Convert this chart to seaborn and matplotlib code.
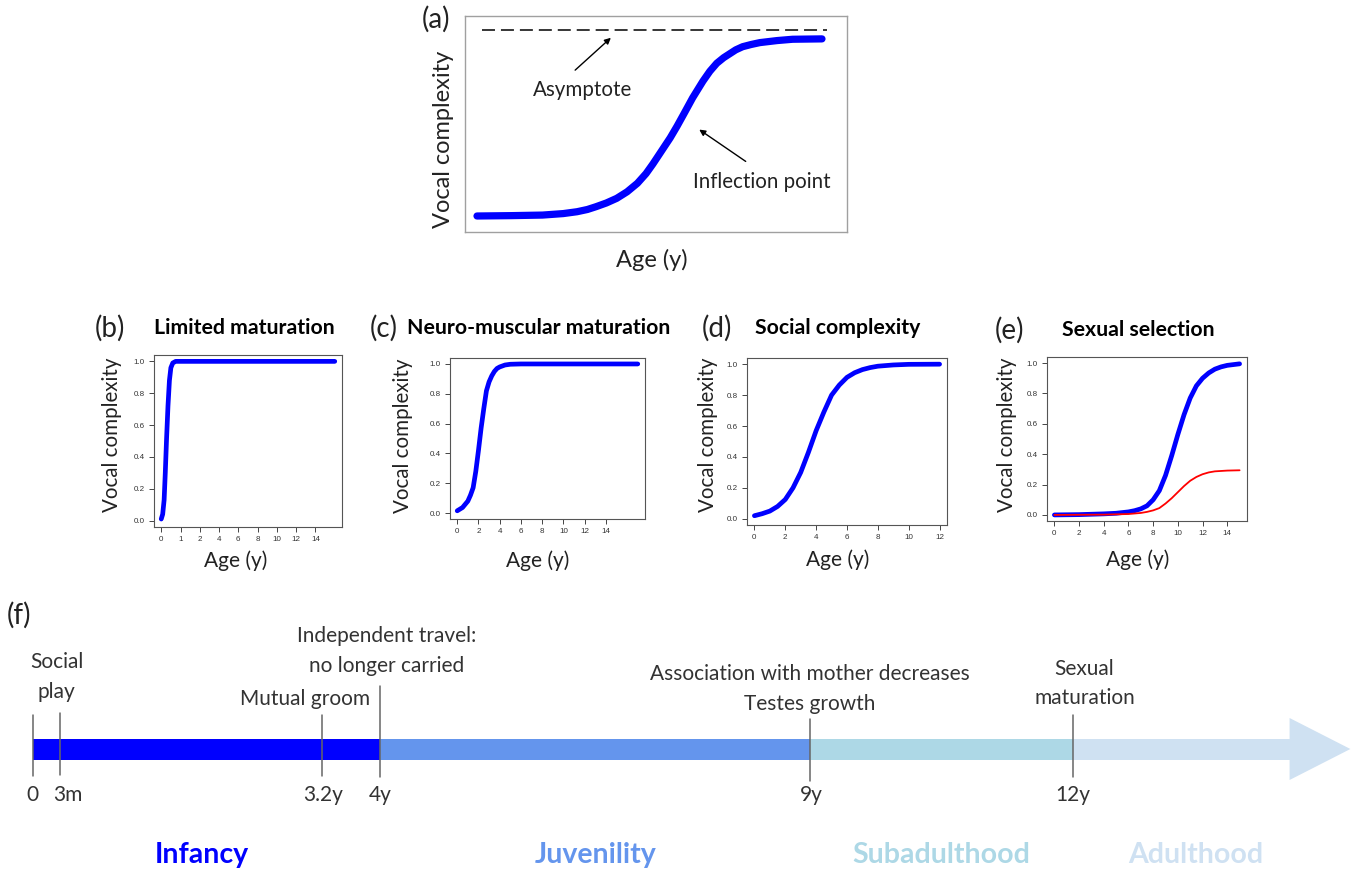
import numpy as np
import pandas as pd
import matplotlib
matplotlib.use("Agg")
import matplotlib.pyplot as plt
import seaborn as sns

sns.set_style("white")
plt.rcParams["font.family"] = ["Lato", "DejaVu Sans"]

W, H = 1354, 871

# ---- data ----
# (a) generic growth curve (arbitrary units)
a_age = [0, 2, 3.8, 5.0, 5.8, 6.4, 6.9, 7.5, 8.1, 8.7, 9.3, 9.8, 10.2, 10.7, 11.2, 11.6, 12.0,
         12.5, 13.1, 13.5, 13.9, 14.3, 14.7, 15.0, 15.4, 15.9, 16.4, 17.4, 18.3, 20.0]
a_val = [0.0, 0.002, 0.005, 0.013, 0.023, 0.035, 0.05, 0.07, 0.095, 0.13, 0.176, 0.228, 0.28,
         0.35, 0.42, 0.483, 0.55, 0.635, 0.725, 0.778, 0.821, 0.851, 0.875, 0.893, 0.91, 0.922,
         0.932, 0.943, 0.95, 0.952]
a_asymptote = 1.0

# (b) limited maturation
b_age = [0, 0.15, 0.3, 0.42, 0.55, 0.7, 0.85, 1.0, 1.2, 1.5, 18]
b_val = [0.01, 0.04, 0.13, 0.3, 0.51, 0.72, 0.88, 0.96, 0.99, 1.0, 1.0]
b_tick_pos = [0, 2, 4, 6, 8, 10, 12, 14, 16]
b_tick_lab = ["0", "1", "2", "4", "6", "8", "10", "12", "14"]

# (c) neuro-muscular maturation
c_age = [0, 0.5, 1, 1.25, 1.5, 1.75, 2, 2.25, 2.5, 2.75, 3, 3.25, 3.5, 3.75, 4, 4.5, 5, 6, 17]
c_val = [0.015, 0.037, 0.08, 0.12, 0.17, 0.28, 0.42, 0.57, 0.7, 0.82, 0.88, 0.92, 0.95, 0.97,
         0.98, 0.993, 0.998, 1.0, 1.0]

# (d) social complexity
d_age = [0, 0.5, 1, 1.5, 2, 2.5, 3, 3.5, 4, 4.5, 5, 5.5, 6, 6.5, 7, 7.5, 8, 9, 10, 12]
d_val = [0.02, 0.033, 0.05, 0.08, 0.125, 0.2, 0.3, 0.43, 0.57, 0.69, 0.8, 0.865, 0.915, 0.945,
         0.965, 0.978, 0.987, 0.995, 0.999, 1.0]

# (e) sexual selection: males (blue) vs females (red)
e_age_m = [0, 2, 4, 5, 6, 6.5, 7, 7.5, 8, 8.5, 9, 9.5, 10, 10.5, 11, 11.5, 12, 12.5, 13, 13.5, 14, 15]
e_val_m = [0, 0.002, 0.007, 0.011, 0.02, 0.028, 0.04, 0.06, 0.1, 0.16, 0.26, 0.39, 0.53, 0.66,
           0.77, 0.85, 0.9, 0.935, 0.96, 0.975, 0.985, 0.995]
e_age_f = [0, 4, 6, 7, 7.5, 8, 8.5, 9, 9.5, 10, 10.5, 11, 11.5, 12, 12.5, 13, 14, 15]
e_val_f = [0, 0.002, 0.006, 0.013, 0.02, 0.03, 0.045, 0.075, 0.11, 0.15, 0.19, 0.225, 0.25,
           0.268, 0.28, 0.287, 0.292, 0.294]

# (f) timeline, positions on the drawn axis
event_pos = [0, 0.32, 3.33, 4.0, 8.95, 11.98]
event_lab = ["0", "3m", "3.2y", "4y", "9y", "12y"]
event_notes = ["Social\nplay", "Mutual groom", "Independent travel:\nno longer carried",
               "Association with mother decreases\nTestes growth", "Sexual\nmaturation"]
note_pos = [0.28, 3.14, 4.08, 8.95, 12.11]
phase_names = ["Infancy", "Juvenility", "Subadulthood", "Adulthood"]
phase_start = [0, 4.0, 8.95, 11.98]
phase_end = [4.0, 8.95, 11.98, 14.47]
phase_label_pos = [1.95, 6.48, 10.46, 13.39]
phase_colors = ["#0000ff", "#6495ed", "#add8e6", "#cfe1f2"]
arrow_tip = 15.17


def box(l, t, r, b):
    return [l / W, 1 - b / H, (r - l) / W, (b - t) / H]


def ftext(x, y, s, **kw):
    fig.text(x / W, 1 - y / H, s, ha="center", va="center", **kw)


fig = plt.figure(figsize=(W / 100, H / 100), dpi=100)

# ---- panel (a) ----
ax = fig.add_axes(box(465, 16, 847, 232))
sns.lineplot(x=a_age, y=a_val, ax=ax, color="#0000ff", linewidth=5.2)
ax.plot([0.29, 20.3], [a_asymptote, a_asymptote], color="black", lw=1.1, dashes=(8.5, 3.9))
ax.set_xlim(-0.696, 21.45)
ax.set_ylim(-0.086, 1.075)
ax.set_xticks([])
ax.set_yticks([])
for s in ax.spines.values():
    s.set_color("#a0a0a0")
    s.set_linewidth(1)
ax.annotate("", xy=(7.88, 0.968), xytext=(5.57, 0.774),
            arrowprops=dict(arrowstyle="-|>", color="black", lw=1, mutation_scale=9))
ax.annotate("", xy=(12.75, 0.473), xytext=(15.71, 0.285),
            arrowprops=dict(arrowstyle="-|>", color="black", lw=1, mutation_scale=9))
ftext(583, 90, "Asymptote", fontsize=14.8, color="#222")
ftext(762, 182, "Inflection point", fontsize=14.8, color="#222")
ftext(436, 19, "(a)", fontsize=20, color="#222")
ftext(443, 139, "Vocal complexity", fontsize=17, rotation=90, color="#222")
ftext(652, 260, "Age (y)", fontsize=17, color="#222")

# ---- panels (b)-(e) ----
panels = [
    ("(b)", "Limited maturation", box(154, 355, 342, 527), (-0.75, 18.75),
     [(b_age, b_val, "#0000ff", 3.4)], b_tick_pos, b_tick_lab,
     (110, 328), (244, 328), (112, 435), (236, 561)),
    ("(c)", "Neuro-muscular maturation", box(450, 358, 645, 519), (-0.68, 17.68),
     [(c_age, c_val, "#0000ff", 3.4)], list(range(0, 15, 2)), None,
     (384, 328), (539, 328), (403, 436), (538, 561)),
    ("(d)", "Social complexity", box(747, 358, 947, 525), (-0.48, 12.48),
     [(d_age, d_val, "#0000ff", 3.4)], list(range(0, 13, 2)), None,
     (717, 328), (838, 328), (708, 435), (838, 560)),
    ("(e)", "Sexual selection", box(1047, 357, 1247, 521), (-0.6, 15.6),
     [(e_age_m, e_val_m, "#0000ff", 3.4), (e_age_f, e_val_f, "#ff0000", 1.3)],
     list(range(0, 15, 2)), None,
     (1009, 330), (1138, 330), (1007, 435), (1138, 560)),
]

for tag, title, pos, xlim, series, xt, xtl, tag_xy, title_xy, yl_xy, xl_xy in panels:
    ax = fig.add_axes(pos)
    for xs, ys, col, lw in series:
        df = pd.DataFrame({"age": xs, "val": ys})
        sns.lineplot(data=df, x="age", y="val", ax=ax, color=col, linewidth=lw,
                     solid_capstyle="round")
    ax.set_xlim(*xlim)
    ax.set_ylim(-0.04, 1.04)
    ax.set_xticks(xt)
    if xtl is not None:
        ax.set_xticklabels(xtl)
    ax.set_yticks([0, 0.2, 0.4, 0.6, 0.8, 1.0])
    ax.set_yticklabels(["0.0", "0.2", "0.4", "0.6", "0.8", "1.0"])
    ax.set_xlabel("")
    ax.set_ylabel("")
    ax.tick_params(axis="both", direction="out", length=3.5, width=0.7, color="#444",
                   labelsize=5.8, labelcolor="#333", pad=3, left=True, bottom=True)
    for lab in ax.get_xticklabels() + ax.get_yticklabels():
        lab.set_family(["Liberation Sans", "DejaVu Sans"])
    for s in ax.spines.values():
        s.set_color("#555")
        s.set_linewidth(0.8)
    ftext(*tag_xy, tag, fontsize=20, color="#222")
    ftext(*title_xy, title, fontsize=15.3, fontweight="bold", color="black")
    ftext(*yl_xy, "Vocal complexity", fontsize=14.8, rotation=90, color="#222")
    ftext(*xl_xy, "Age (y)", fontsize=15, color="#222")

# ---- panel (f): timeline ----
axf = fig.add_axes([0, 0, 1, 1], zorder=-1)
axf.set_xlim((0 - 32.5) / 86.875, (W - 32.5) / 86.875)
axf.set_ylim(H, 0)
axf.axis("off")

bar_y, bar_h = 749, 21
widths = [e - s for s, e in zip(phase_start, phase_end)]
axf.barh(bar_y, widths, left=phase_start, height=bar_h, color=phase_colors, linewidth=0)
axf.fill([phase_end[-1], arrow_tip, phase_end[-1]], [718, bar_y, 780],
         color=phase_colors[-1], linewidth=0)

line_top = [715, 713, 715, 686, 719, 715]
line_bot = [776, 775, 776, 777, 781, 777]
for p, t, b in zip(event_pos, line_top, line_bot):
    axf.plot([p, p], [t, b], color="#666", lw=1.1)

lab_nudge = [0, 0.09, 0.02, 0, 0.02, 0]
for p, lab, n in zip(event_pos, event_lab, lab_nudge):
    axf.text(p + n, 795, lab, ha="center", va="center", fontsize=15, color="#333")

note_y = [677, 699, 651, 689, 683.5]
for p, note, y in zip(note_pos, event_notes, note_y):
    axf.text(p, y, note, ha="center", va="center", fontsize=15, color="#333",
             linespacing=1.6)

for p, name, col in zip(phase_label_pos, phase_names, phase_colors):
    axf.text(p, 855, name, ha="center", va="center", fontsize=20.5,
             fontweight="bold", color=col)

axf.text((19 - 32.5) / 86.875, 615, "(f)", ha="center", va="center", fontsize=20, color="#222")

fig.savefig("out.png", dpi=100)
